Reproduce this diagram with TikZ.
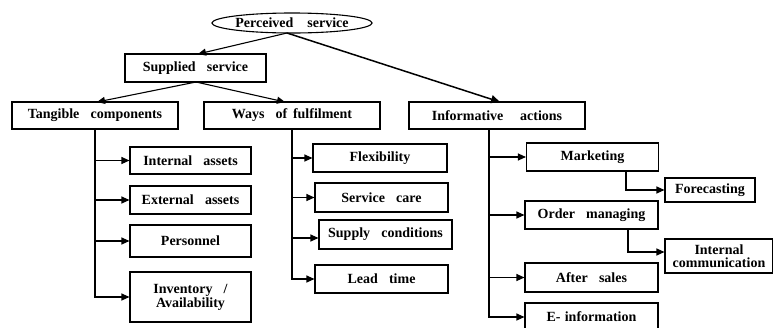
\documentclass[tikz,border=0pt]{standalone}
\usepackage{fontspec}
\setmainfont{Liberation Serif}
\usetikzlibrary{shapes.geometric,arrows.meta}
\newcommand{\wsp}{\hspace{0.8em}}
\begin{document}
\begin{tikzpicture}[x=1pt,y=-1pt,
  box/.style={draw,line width=1.1pt,inner sep=0pt,font=\bfseries\fontsize{14}{14}\selectfont,align=center},
  arr/.style={line width=1.1pt,-{Triangle[length=8pt,width=7pt]}},
  link/.style={line width=1.5pt,-{Triangle[length=9pt,width=8pt]}}]
\useasboundingbox (0,0) rectangle (773,327);
\node[box,ellipse,minimum width=160pt,minimum height=20pt] (ps) at (292,23) {Perceived\hspace{1em}service};
\node[box,minimum width=141pt,minimum height=28pt] (ss) at (195.5,68) {Supplied\wsp service};
\node[box,minimum width=166pt,minimum height=27pt] (tc) at (95,115.5) {Tangible\wsp components};
\node[box,minimum width=176pt,minimum height=27pt] (wf) at (292,115.5) {Ways\wsp of\hspace{0.4em}fulfilment};
\node[box,minimum width=176pt,minimum height=27pt] (ia) at (497,115.5) {Informative\hspace{1.2em}actions};
% tangible children
\node[box,minimum width=121pt,minimum height=27pt] (ina) at (190.5,160.5) {Internal\wsp assets};
\node[box,minimum width=121pt,minimum height=28pt] (exa) at (190.5,200) {External\wsp assets};
\node[box,minimum width=121pt,minimum height=32pt] (per) at (190.5,241) {Personnel};
\node[box,minimum width=121pt,minimum height=50pt] (inv) at (190.5,297) {Inventory\wsp /\\Availability};
% ways children
\node[box,minimum width=134pt,minimum height=28pt] (fx) at (380,158) {Flexibility};
\node[box,minimum width=133pt,minimum height=29pt] (sc) at (381.5,197.5) {Service\wsp care};
\node[box,minimum width=133pt,minimum height=29pt] (sup) at (385.5,234.5) {Supply\wsp conditions};
\node[box,minimum width=133pt,minimum height=28pt] (lt) at (381.5,279) {Lead\wsp time};
% informative children
\node[box,minimum width=132pt,minimum height=28pt] (mk) at (592.5,157) {Marketing};
\node[box,minimum width=90pt,minimum height=24pt] (fc) at (710,190) {Forecasting};
\node[box,minimum width=133pt,minimum height=28pt] (om) at (591.5,215) {Order\wsp managing};
\node[box,minimum width=108pt,minimum height=34pt,font=\bfseries\fontsize{14}{12.5}\selectfont] (ic) at (719,256) {Internal\\communication};
\node[box,minimum width=133pt,minimum height=29pt] (as) at (591.5,277.5) {After\wsp sales};
\node[box,minimum width=133pt,minimum height=28pt] (ei) at (591.5,317) {E-\hspace{0.3em}information};
% coordinates
\coordinate (psb) at (287,33);
\coordinate (ssb) at (196,82);
\coordinate (iat) at (489,129);
\coordinate (mkb) at (626,171);
\coordinate (omb) at (628,229);
% top links
\draw[arr] (psb) -- (198,54);
\draw[link] (psb) -- (500,102);
\draw[arr] (ssb) -- (97,102);
\draw[arr] (ssb) -- (285,102);
% tangible tree
\draw[arr] (tc.south) |- (ina.west);
\draw[arr] (tc.south) |- (exa.west);
\draw[arr] (tc.south) |- (per.west);
\draw[arr] (tc.south) |- (inv.west);
% ways tree
\draw[arr] (wf.south) |- (fx.west);
\draw[arr] (wf.south) |- (sc.west);
\draw[arr] (wf.south) |- ([yshift=-3.5pt]sup.west);
\draw[arr] (wf.south) |- (lt.west);
% informative tree
\draw[arr] (iat) |- (mk.west);
\draw[arr] (iat) |- (om.west);
\draw[arr] (iat) |- (as.west);
\draw[arr] (iat) |- (ei.west);
\draw[arr] (mkb) |- (fc.west);
\draw[arr] (omb) |- ([yshift=4pt]ic.west);
\end{tikzpicture}
\end{document}
